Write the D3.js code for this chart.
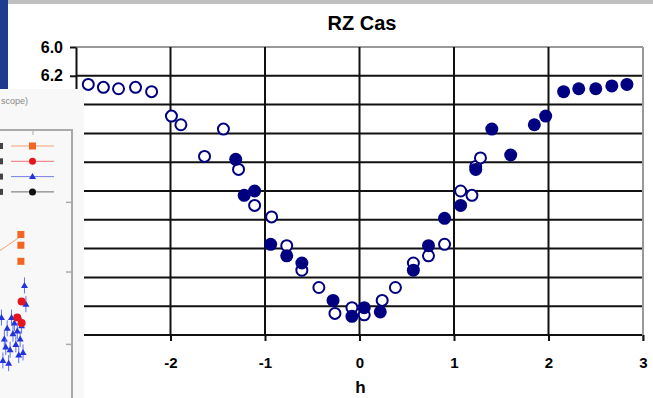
<!DOCTYPE html>
<html>
<head>
<meta charset="utf-8">
<script src="https://cdn.jsdelivr.net/npm/d3@7"></script>
<style>
  body { margin: 0; background: #fff; }
  svg { display: block; font-family: Arial, "Liberation Sans", sans-serif; }
</style>
</head>
<body>
<div id="chart"></div>
<script>
// RZ Cas light curve: h (phase, hours) vs magnitude
const openH   = [-2.87, -2.71, -2.55, -2.37, -2.20, -1.99, -1.89, -1.44, -1.64, -1.28, -1.11, -0.93, -0.77, -0.61, -0.43, -0.26, -0.08, 0.05, 0.24, 0.38, 0.57, 0.73, 0.90, 1.07, 1.19, 1.23, 1.28];
const openMag = [6.26, 6.28, 6.29, 6.28, 6.31, 6.48, 6.54, 6.57, 6.76, 6.85, 7.10, 7.18, 7.38, 7.55, 7.67, 7.85, 7.81, 7.86, 7.76, 7.67, 7.50, 7.45, 7.37, 7.00, 7.03, 6.83, 6.77];

const fillH   = [-1.31, -1.22, -1.11, -0.94, -0.77, -0.61, -0.28, -0.08, 0.05, 0.22, 0.57, 0.73, 0.90, 1.07, 1.23, 1.40, 1.60, 1.85, 1.97, 2.16, 2.32, 2.50, 2.67, 2.83];
const fillMag = [6.78, 7.03, 7.00, 7.37, 7.45, 7.50, 7.76, 7.87, 7.81, 7.84, 7.55, 7.38, 7.19, 7.10, 6.85, 6.57, 6.75, 6.54, 6.48, 6.31, 6.29, 6.29, 6.27, 6.26];

const xTicks = [-2, -1, 0, 1, 2, 3];
const yTicks = [6.0, 6.2, 6.4, 6.6, 6.8, 7.0, 7.2, 7.4, 7.6, 7.8, 8.0];

// fragment of the slide's other picture (left side)
const insetOrangeX = [0.29, 0.29, 0.29];
const insetOrangeY = [0.61, 0.57, 0.51];
const insetBlueX = [0.02, 0.06, 0.10, 0.14, 0.18, 0.22, 0.26, 0.30, 0.34, 0.04, 0.12, 0.20, 0.28, 0.08, 0.16, 0.24, 0.32, 0.36];
const insetBlueY = [0.30, 0.22, 0.26, 0.18, 0.24, 0.20, 0.16, 0.27, 0.42, 0.14, 0.13, 0.28, 0.22, 0.19, 0.30, 0.25, 0.17, 0.35];
const insetRedX = [0.30, 0.24, 0.30];
const insetRedY = [0.36, 0.30, 0.28];

const width = 653, height = 398;
const navy = '#000080';

const svg = d3.select('#chart').append('svg')
  .attr('width', width)
  .attr('height', height);

const x = d3.scaleLinear().domain([-3, 3]).range([76, 643]);
const y = d3.scaleLinear().domain([6, 8]).range([47, 335]);

// title
svg.append('text')
  .attr('x', 362).attr('y', 30)
  .attr('text-anchor', 'middle')
  .attr('font-size', '20px').attr('font-weight', 'bold')
  .text('RZ Cas');

// horizontal grid
svg.append('g')
  .selectAll('line')
  .data(yTicks)
  .join('line')
  .attr('x1', x(-3)).attr('x2', x(3))
  .attr('y1', d => y(d)).attr('y2', d => y(d))
  .attr('stroke', (d, i) => i === 0 ? '#999' : '#111')
  .attr('stroke-width', 2);

// vertical grid
svg.append('g')
  .selectAll('line')
  .data(xTicks.filter(d => d < 3))
  .join('line')
  .attr('x1', d => x(d)).attr('x2', d => x(d))
  .attr('y1', y(6)).attr('y2', y(8))
  .attr('stroke', '#111')
  .attr('stroke-width', 2);

// right frame
svg.append('line')
  .attr('x1', x(3)).attr('x2', x(3))
  .attr('y1', y(6)).attr('y2', y(8) + 6)
  .attr('stroke', '#999').attr('stroke-width', 2);

// x axis
const xAxis = svg.append('g')
  .attr('transform', `translate(0, ${y(8)})`)
  .call(d3.axisBottom(x).tickValues(xTicks).tickSize(6).tickSizeOuter(0).tickFormat(d3.format('d')));
xAxis.select('.domain').remove();
xAxis.selectAll('line').attr('stroke', '#111').attr('stroke-width', 2);
xAxis.selectAll('text')
  .attr('font-size', '15px').attr('font-weight', 'bold')
  .attr('font-family', 'Arial, "Liberation Sans", sans-serif')
  .attr('fill', '#000').attr('dy', '1.6em')
  .text(d => d < 0 ? '-' + Math.abs(d) : d);

svg.append('text')
  .attr('x', x(0) + 1).attr('y', 393)
  .attr('text-anchor', 'middle')
  .attr('font-size', '17px').attr('font-weight', 'bold')
  .text('h');

// y axis
const yAxis = svg.append('g')
  .attr('transform', `translate(${x(-3)}, 0)`)
  .call(d3.axisLeft(y).tickValues(yTicks).tickSize(6).tickSizeOuter(0).tickFormat(d3.format('.1f')));
yAxis.select('.domain').attr('stroke', '#111').attr('stroke-width', 2);
yAxis.selectAll('line').attr('stroke', '#111').attr('stroke-width', 2);
yAxis.selectAll('text')
  .attr('font-size', '16px').attr('font-weight', 'bold')
  .attr('font-family', 'Arial, "Liberation Sans", sans-serif')
  .attr('fill', '#000').attr('x', -13);

// data points
svg.append('g')
  .selectAll('circle')
  .data(openH.map((h, i) => ({ h, m: openMag[i] })))
  .join('circle')
  .attr('cx', d => x(d.h)).attr('cy', d => y(d.m))
  .attr('r', 5.5)
  .attr('fill', '#fff')
  .attr('stroke', navy).attr('stroke-width', 2);

svg.append('g')
  .selectAll('circle')
  .data(fillH.map((h, i) => ({ h, m: fillMag[i] })))
  .join('circle')
  .attr('cx', d => x(d.h)).attr('cy', d => y(d.m))
  .attr('r', 6.5)
  .attr('fill', navy);

// ---- slide decoration: top bar, blue strip and overlapping picture ----
svg.append('rect').attr('x', 0).attr('y', 0).attr('width', width).attr('height', 4).attr('fill', '#c0c0c0');
svg.append('rect').attr('x', 0).attr('y', 0).attr('width', 8).attr('height', 89).attr('fill', '#1d3c8f');

const inset = svg.append('g');
inset.append('rect').attr('x', 0).attr('y', 89).attr('width', 84).attr('height', 309).attr('fill', '#f8f8f8');
inset.append('text').attr('x', 1).attr('y', 104)
  .attr('font-size', '9px').attr('fill', '#888').text('scope)');

const ix = d3.scaleLinear().domain([0, 1]).range([0, 72]);
const iy = d3.scaleLinear().domain([0, 1]).range([398, 130]);

inset.append('path')
  .attr('d', `M0,130H${ix(1)}V398`)
  .attr('fill', 'none').attr('stroke', '#aaa').attr('stroke-width', 2);
inset.selectAll('line.tk')
  .data([0.2, 0.47, 0.73])
  .join('line').attr('class', 'tk')
  .attr('x1', ix(1) - 6).attr('x2', ix(1))
  .attr('y1', d => iy(d)).attr('y2', d => iy(d))
  .attr('stroke', '#aaa').attr('stroke-width', 1.5);
inset.append('line').attr('x1', 33).attr('x2', 33).attr('y1', 130).attr('y2', 135).attr('stroke', '#aaa');

const legendColors = ['#f26522', '#e8141c', '#2233dd', '#111'];
const lg = inset.selectAll('g.lg')
  .data(legendColors)
  .join('g').attr('class', 'lg')
  .attr('transform', (d, i) => `translate(0, ${146 + i * 15.3})`);
lg.append('line').attr('x1', 11).attr('x2', 54).attr('stroke', d => d).attr('stroke-width', 1).attr('opacity', 0.6);
lg.append('rect').attr('x', 0).attr('y', -3).attr('width', 3).attr('height', 6).attr('fill', '#444');
lg.each(function (d, i) {
  const g = d3.select(this);
  if (i === 0) g.append('rect').attr('x', 29).attr('y', -3.5).attr('width', 7).attr('height', 7).attr('fill', d);
  else if (i === 2) g.append('path').attr('d', 'M32.5,-3.5L36,2.5H29Z').attr('fill', d);
  else g.append('circle').attr('cx', 32.5).attr('r', 3.5).attr('fill', d);
});

inset.append('line')
  .attr('x1', 0).attr('y1', iy(0.55)).attr('x2', ix(0.27)).attr('y2', iy(0.6))
  .attr('stroke', '#f4a070').attr('stroke-width', 1);
inset.selectAll('rect.or')
  .data(insetOrangeX.map((v, i) => [v, insetOrangeY[i]]))
  .join('rect').attr('class', 'or')
  .attr('x', d => ix(d[0]) - 3.5).attr('y', d => iy(d[1]) - 3.5)
  .attr('width', 7).attr('height', 7).attr('fill', '#f26522');
inset.selectAll('g.bl')
  .data(insetBlueX.map((v, i) => [v, insetBlueY[i]]))
  .join('g').attr('class', 'bl')
  .attr('transform', d => `translate(${ix(d[0])}, ${iy(d[1])})`)
  .call(g => g.append('line').attr('y1', -8).attr('y2', 8).attr('stroke', '#6070f0').attr('stroke-width', 1))
  .call(g => g.append('path').attr('d', 'M0,-3.5L3.5,2.5H-3.5Z').attr('fill', '#2233dd'));
inset.selectAll('circle.rd')
  .data(insetRedX.map((v, i) => [v, insetRedY[i]]))
  .join('circle').attr('class', 'rd')
  .attr('cx', d => ix(d[0])).attr('cy', d => iy(d[1]))
  .attr('r', 4).attr('fill', '#e8141c');
</script>
</body>
</html>
